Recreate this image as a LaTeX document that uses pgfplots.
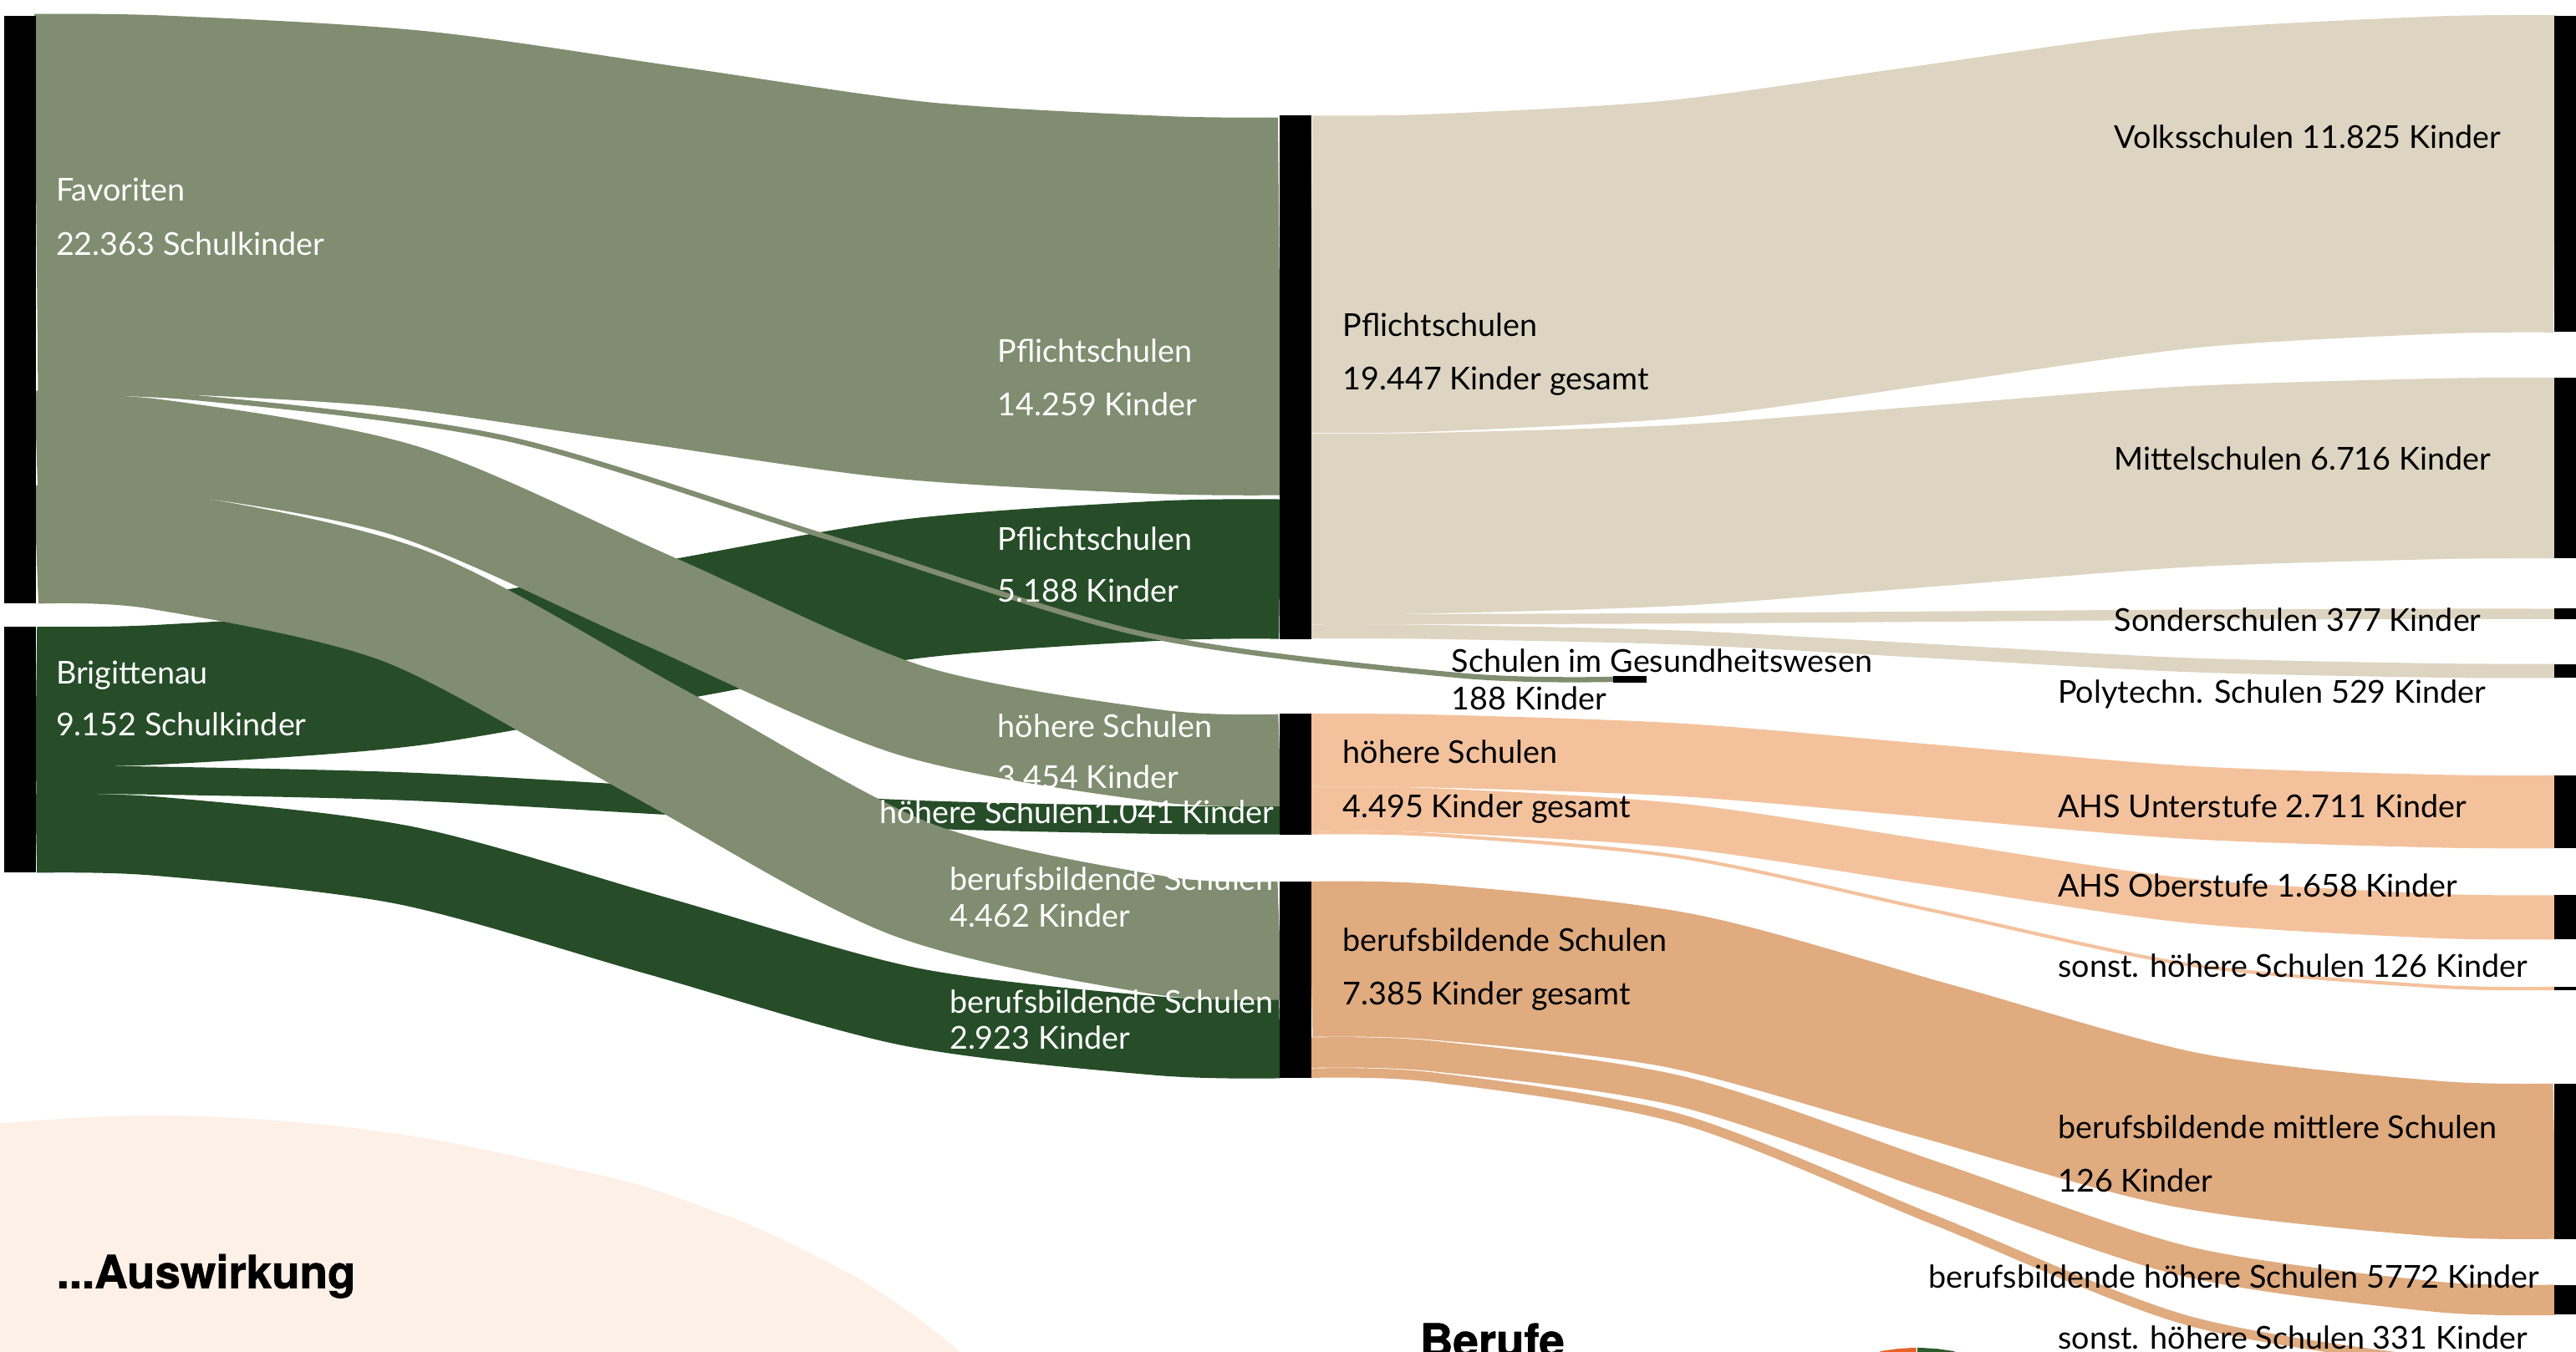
\documentclass[border=0pt]{standalone}
\usepackage{pgfplots}
\pgfplotsset{compat=1.18}
\usepackage{fontspec}
\setmainfont{Lato}
\newfontfamily\headfont{TeX Gyre Heros}[BoldFeatures={FakeBold=1.2}]
\definecolor{fav}{RGB}{128,141,112}
\definecolor{brig}{RGB}{38,77,40}
\definecolor{beige}{RGB}{221,213,194}
\definecolor{peach}{RGB}{243,194,157}
\definecolor{tan}{RGB}{223,171,127}
\definecolor{bgcirc}{RGB}{253,240,231}
\definecolor{donutor}{RGB}{232,98,42}
\definecolor{donutgr}{RGB}{46,90,46}
\newcommand\lbl{\fontsize{9.6}{11}\selectfont}
\newcommand\hd{\headfont\bfseries\fontsize{13.9}{16}\selectfont}
\tikzset{
  wl/.style={anchor=base west, text=white, font=\lbl, inner sep=0pt},
  bl/.style={anchor=base west, text=black, font=\lbl, inner sep=0pt},
}
\begin{document}
\begin{tikzpicture}
\begin{axis}[
  scale only axis, width=784pt, height=411.5pt,
  xmin=0, xmax=1568, ymin=0, ymax=823, y dir=reverse,
  hide axis, clip=true, no markers,
]
% background circle
\addplot[fill=bgcirc, draw=none, smooth] coordinates {
  (-60,690) (0,684) (50,680.5) (97,679) (150,681) (200,685) (253,692) (300,701)
  (380,719) (420,732) (464,749) (520,777) (555,800) (584,823) (620,860)
  (700,1000) (-100,1000)};
% donut top
\addplot[fill=donutor, draw=none] coordinates {(1139.6,826)(1145,822.6)(1155,821.2)(1166.4,820.5)(1166.4,826)};
\addplot[fill=donutgr, draw=none] coordinates {(1167.2,820.5)(1179,821.2)(1189,822.6)(1195.6,826)(1167.2,826)};

% Brigittenau links
\addplot[draw=brig, line width=42.5pt, smooth] coordinates {(22,424.1)(96.2,423.0)(246.8,412.0)(400.5,385.3)(554.2,358.6)(704.8,347.6)(779,346.5)};
\addplot[draw=brig, line width=8.5pt, smooth] coordinates {(22,475)(96.2,475.3)(246.8,478.8)(400.5,487.25)(554.2,495.7)(704.8,499.2)(779,499.5)};
\addplot[draw=brig, line width=24pt, smooth] coordinates {(22,507.4)(96.2,509.2)(246.8,526.9)(400.5,569.95)(554.2,613.0)(704.8,630.7)(779,632.5)};

% Favoriten links
\addplot[draw=fav, line width=115pt, smooth] coordinates {(22,123.5)(96.2,124.4)(246.8,133.3)(400.5,155.0)(554.2,176.7)(704.8,185.6)(779,186.5)};
\addplot[draw=fav, line width=28pt, smooth] coordinates {(22,268.5)(96.2,271.2)(246.8,298.8)(400.5,365.65)(554.2,432.5)(704.8,460.1)(779,462.8)};
\addplot[draw=fav, line width=36pt, smooth] coordinates {(22,331.6)(96.2,335.0)(246.8,369.2)(400.5,452.15)(554.2,535.1)(704.8,569.3)(779,572.7)};
\addplot[draw=fav, line width=1.6pt, smooth] coordinates {(22,239.5)(116.1,241.9)(307.1,266.7)(502,326.55)(696.9,386.4)(887.9,411.2)(982,413.6)};

% Pflichtschulen -> right
\addplot[draw=beige, line width=96.6pt, smooth] coordinates {(798,167)(872.2,166.1)(1022.8,157.5)(1176.5,136.4)(1330.2,115.3)(1480.8,106.7)(1555,105.8)};
\addplot[draw=beige, line width=55pt, smooth] coordinates {(798,319)(872.2,318.5)(1022.8,313.7)(1176.5,302)(1330.2,290.3)(1480.8,285.5)(1555,285)};
\addplot[draw=beige, line width=3.15pt, smooth] coordinates {(798,377)(872.2,377)(1022.8,376.5)(1176.5,375.4)(1330.2,374.3)(1480.8,373.8)(1555,373.8)};
\addplot[draw=beige, line width=4.3pt, smooth] coordinates {(798,384.5)(872.2,384.8)(1022.8,388.2)(1176.5,396.5)(1330.2,404.8)(1480.8,408.2)(1555,408.5)};
% hoehere -> right
\addplot[draw=peach, line width=22.2pt, smooth] coordinates {(798,456.8)(872.2,457.3)(1022.8,462.65)(1176.5,475.55)(1330.2,488.45)(1480.8,493.8)(1555,494.3)};
\addplot[draw=peach, line width=13.5pt, smooth] coordinates {(798,492.5)(872.2,493.4)(1022.8,502.8)(1176.5,525.5)(1330.2,548.2)(1480.8,557.6)(1555,558.5)};
\addplot[draw=peach, line width=1.05pt, smooth] coordinates {(798,507)(872.2,508.3)(1022.8,521.8)(1176.5,554.4)(1330.2,587.0)(1480.8,600.5)(1555,601.8)};
% berufsbildende -> right
\addplot[draw=tan, line width=47.3pt, smooth] coordinates {(798,584)(872.2,585.7)(1022.8,603.2)(1176.5,645.5)(1330.2,687.8)(1480.8,705.3)(1555,707)};
\addplot[draw=tan, line width=9.25pt, smooth] coordinates {(798,640.9)(872.2,643.0)(1022.8,664.4)(1176.5,716.15)(1330.2,767.9)(1480.8,789.3)(1555,791.4)};
\addplot[draw=tan, line width=2.9pt, smooth] coordinates {(798,653.4)(872.2,655.9)(1022.8,681.2)(1176.5,742.4)(1330.2,803.6)(1480.8,828.9)(1555,831.4)};

% node bars
\addplot[fill=black, draw=none] coordinates {(2.6,9.5)(21.8,9.5)(21.8,367.5)(2.6,367.5)};
\addplot[fill=black, draw=none] coordinates {(2.6,381.7)(21.8,381.7)(21.8,531.3)(2.6,531.3)};
\addplot[fill=black, draw=none] coordinates {(779,70)(798,70)(798,389)(779,389)};
\addplot[fill=black, draw=none] coordinates {(779,434.6)(798,434.6)(798,508)(779,508)};
\addplot[fill=black, draw=none] coordinates {(779,536.7)(798,536.7)(798,656.5)(779,656.5)};
\addplot[fill=black, draw=none] coordinates {(982,411.7)(1002,411.7)(1002,415.5)(982,415.5)};
\addplot[fill=black, draw=none] coordinates {(1555,9.6)(1575,9.6)(1575,202)(1555,202)};
\addplot[fill=black, draw=none] coordinates {(1555,230)(1575,230)(1575,340)(1555,340)};
\addplot[fill=black, draw=none] coordinates {(1555,370.5)(1575,370.5)(1575,377)(1555,377)};
\addplot[fill=black, draw=none] coordinates {(1555,404.5)(1575,404.5)(1575,412.5)(1555,412.5)};
\addplot[fill=black, draw=none] coordinates {(1555,472)(1575,472)(1575,516.6)(1555,516.6)};
\addplot[fill=black, draw=none] coordinates {(1555,545)(1575,545)(1575,572)(1555,572)};
\addplot[fill=black, draw=none] coordinates {(1555,600.7)(1575,600.7)(1575,603)(1555,603)};
\addplot[fill=black, draw=none] coordinates {(1555,659.7)(1575,659.7)(1575,754.3)(1555,754.3)};
\addplot[fill=black, draw=none] coordinates {(1555,782.5)(1575,782.5)(1575,800.3)(1555,800.3)};
\addplot[fill=black, draw=none] coordinates {(1555,828.5)(1575,828.5)(1575,834.3)(1555,834.3)};

% white labels
\node[wl] at (axis cs:33.7,122.3) {Favoriten};
\node[wl] at (axis cs:33.7,155.4) {22.363 Schulkinder};
\node[wl] at (axis cs:33.7,416.3) {Brigittenau};
\node[wl] at (axis cs:33.7,447.8) {9.152 Schulkinder};
\node[wl] at (axis cs:607,220.5) {Pflichtschulen};
\node[wl] at (axis cs:607,253) {14.259 Kinder};
\node[wl] at (axis cs:607,335) {Pflichtschulen};
\node[wl] at (axis cs:607,366.5) {5.188 Kinder};
\node[wl] at (axis cs:607,449) {höhere Schulen};
\node[wl] at (axis cs:607,480) {3.454 Kinder};
\node[wl, anchor=base east] at (axis cs:776,501.4) {höhere Schulen1.041 Kinder};
\node[wl] at (axis cs:577.6,542) {berufsbildende Schulen};
\node[wl] at (axis cs:577.6,564.4) {4.462 Kinder};
\node[wl] at (axis cs:577.6,617) {berufsbildende Schulen};
\node[wl] at (axis cs:577.6,639) {2.923 Kinder};

% black labels
\node[bl] at (axis cs:817,204.8) {Pflichtschulen};
\node[bl] at (axis cs:817,237.3) {19.447 Kinder gesamt};
\node[bl] at (axis cs:1286.7,90.3) {Volksschulen 11.825 Kinder};
\node[bl] at (axis cs:1286.7,286) {Mittelschulen 6.716 Kinder};
\node[bl] at (axis cs:1286.7,384.3) {Sonderschulen 377 Kinder};
\node[bl] at (axis cs:1252.3,428) {Polytechn. Schulen 529 Kinder};
\node[bl] at (axis cs:883.2,409.5) {Schulen im Gesundheitswesen};
\node[bl] at (axis cs:883.2,432) {188 Kinder};
\node[bl] at (axis cs:817,465) {höhere Schulen};
\node[bl] at (axis cs:817,497.7) {4.495 Kinder gesamt};
\node[bl] at (axis cs:1252.3,497.7) {AHS Unterstufe 2.711 Kinder};
\node[bl] at (axis cs:1252.3,546) {AHS Oberstufe 1.658 Kinder};
\node[bl] at (axis cs:1252.3,594.8) {sonst. höhere Schulen 126 Kinder};
\node[bl] at (axis cs:817,579) {berufsbildende Schulen};
\node[bl] at (axis cs:817,611.6) {7.385 Kinder gesamt};
\node[bl] at (axis cs:1252.3,693) {berufsbildende mittlere Schulen};
\node[bl] at (axis cs:1252.3,725.6) {126 Kinder};
\node[bl] at (axis cs:1173.7,784.4) {berufsbildende höhere Schulen 5772 Kinder};
\node[bl] at (axis cs:1252.3,821.6) {sonst. höhere Schulen 331 Kinder};

% headings
\node[anchor=base west, inner sep=0pt, font=\hd] at (axis cs:34,784.3) {...Auswirkung};
\node[anchor=base west, inner sep=0pt, font=\hd] at (axis cs:864,826) {Berufe};
\end{axis}
\pgfresetboundingbox
\useasboundingbox (current axis.south west) rectangle (current axis.north east);
\end{tikzpicture}
\end{document}
